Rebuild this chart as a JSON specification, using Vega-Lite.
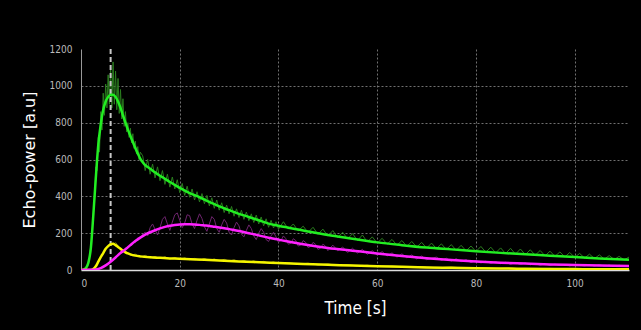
{
  "$schema": "https://vega.github.io/schema/vega-lite/v6.json",
  "width": 548,
  "height": 221,
  "autosize": "none",
  "padding": {"left": 81, "top": 49, "right": 12, "bottom": 60},
  "background": "#000000",
  "config": {
    "view": {"stroke": null},
    "axis": {
      "ticks": false,
      "grid": true,
      "gridColor": "#707070",
      "gridDash": [2, 2],
      "gridWidth": 1,
      "labelFont": "DejaVu Sans Condensed, Liberation Sans, sans-serif",
      "labelFontSize": 10,
      "labelColor": "#bbbbbb",
      "titleColor": "#ffffff",
      "titleFontWeight": "normal"
    }
  },
  "datasets": {
    "graw": [
      {"t":0,"v":0},{"t":0.5,"v":3},{"t":1,"v":12},{"t":1.5,"v":45},{"t":1.75,"v":70},{"t":2,"v":140},{"t":2.25,"v":190},{"t":2.5,"v":320},{"t":2.75,"v":380},{"t":3,"v":560},{"t":3.25,"v":540},{"t":3.5,"v":720},{"t":3.75,"v":640},{"t":4,"v":860},{"t":4.25,"v":760},{"t":4.5,"v":960},{"t":4.75,"v":840},{"t":5,"v":1010},{"t":5.25,"v":880},{"t":5.5,"v":1060},{"t":5.75,"v":900},{"t":6,"v":1100},{"t":6.25,"v":880},{"t":6.5,"v":1130},{"t":6.75,"v":900},{"t":7,"v":1080},{"t":7.25,"v":870},{"t":7.5,"v":1040},{"t":7.75,"v":850},{"t":8,"v":980},{"t":8.25,"v":820},{"t":8.5,"v":930},{"t":8.75,"v":780},{"t":9,"v":860},{"t":9.25,"v":750},{"t":9.5,"v":800},{"t":9.75,"v":720},{"t":10,"v":770},{"t":10.25,"v":690},{"t":10.5,"v":740},{"t":10.75,"v":660},{"t":11,"v":700},{"t":11.25,"v":630},{"t":11.5,"v":670},{"t":11.75,"v":600},{"t":12,"v":640},
      {"t":12.5,"v":620},{"t":13,"v":540},{"t":13.5,"v":600},{"t":14,"v":520},{"t":14.5,"v":575},{"t":15,"v":500},{"t":15.5,"v":560},{"t":16,"v":485},{"t":16.5,"v":540},{"t":17,"v":465},{"t":17.5,"v":520},{"t":18,"v":450},{"t":18.5,"v":505},{"t":19,"v":440},{"t":19.5,"v":490},{"t":20,"v":420},{"t":20.5,"v":470},{"t":21,"v":405},{"t":21.5,"v":455},{"t":22,"v":395},{"t":22.5,"v":440},{"t":23,"v":380},{"t":23.5,"v":425},{"t":24,"v":370},{"t":24.5,"v":415},{"t":25,"v":360},{"t":25.5,"v":405},{"t":26,"v":348},{"t":26.5,"v":392},{"t":27,"v":335},{"t":27.5,"v":380},{"t":28,"v":325},{"t":28.5,"v":365},{"t":29,"v":312},{"t":29.5,"v":352},{"t":30,"v":305},{"t":30.5,"v":345},{"t":31,"v":292},{"t":31.5,"v":332},{"t":32,"v":285},{"t":32.5,"v":325},{"t":33,"v":275},{"t":33.5,"v":315},{"t":34,"v":268},{"t":34.5,"v":305},{"t":35,"v":258},{"t":35.5,"v":298},{"t":36,"v":250},{"t":36.5,"v":288},{"t":37,"v":240},{"t":37.5,"v":278},{"t":38,"v":232},{"t":38.5,"v":270},{"t":39,"v":228},{"t":39.5,"v":262},{"t":40,"v":222},
      {"t":41,"v":262},{"t":42,"v":222},{"t":43,"v":250},{"t":44,"v":212},{"t":45,"v":238},{"t":46,"v":204},{"t":47,"v":232},{"t":48,"v":194},{"t":49,"v":222},{"t":50,"v":184},{"t":51,"v":214},{"t":52,"v":176},{"t":53,"v":205},{"t":54,"v":168},{"t":55,"v":198},{"t":56,"v":160},{"t":57,"v":190},{"t":58,"v":152},{"t":59,"v":180},{"t":60,"v":146},{"t":61,"v":172},{"t":62,"v":140},{"t":63,"v":166},{"t":64,"v":134},{"t":65,"v":160},{"t":66,"v":128},{"t":67,"v":155},{"t":68,"v":124},{"t":69,"v":150},{"t":70,"v":119},{"t":71,"v":146},{"t":72,"v":116},{"t":73,"v":142},{"t":74,"v":111},{"t":75,"v":138},{"t":76,"v":107},{"t":77,"v":134},{"t":78,"v":104},{"t":79,"v":130},{"t":80,"v":100},{"t":81,"v":128},{"t":82,"v":96},{"t":83,"v":124},{"t":84,"v":93},{"t":85,"v":120},{"t":86,"v":89},{"t":87,"v":118},{"t":88,"v":86},{"t":89,"v":114},{"t":90,"v":83},{"t":91,"v":110},{"t":92,"v":80},{"t":93,"v":106},{"t":94,"v":77},{"t":95,"v":102},{"t":96,"v":74},{"t":97,"v":98},{"t":98,"v":71},{"t":99,"v":95},{"t":100,"v":68},{"t":101,"v":90},{"t":102,"v":65},{"t":103,"v":86},{"t":104,"v":62},{"t":105,"v":82},{"t":106,"v":59},{"t":107,"v":78},{"t":108,"v":57},{"t":109,"v":74},{"t":110,"v":55},{"t":111,"v":70}
    ],
    "mraw": [
      {"t":8,"v":95},{"t":8.5,"v":108},{"t":9,"v":120},{"t":9.5,"v":118},{"t":10,"v":140},{"t":10.5,"v":150},{"t":11,"v":148},{"t":11.5,"v":175},{"t":12,"v":170},{"t":12.5,"v":195},{"t":13,"v":205},{"t":13.5,"v":185},{"t":14,"v":230},{"t":14.5,"v":250},{"t":15,"v":220},{"t":15.5,"v":190},{"t":16,"v":230},{"t":16.5,"v":275},{"t":17,"v":290},{"t":17.5,"v":250},{"t":18,"v":215},{"t":18.5,"v":260},{"t":19,"v":300},{"t":19.5,"v":310},{"t":20,"v":270},{"t":20.5,"v":230},{"t":21,"v":255},{"t":21.5,"v":300},{"t":22,"v":295},{"t":22.5,"v":250},{"t":23,"v":225},{"t":23.5,"v":270},{"t":24,"v":305},{"t":24.5,"v":280},{"t":25,"v":235},{"t":25.5,"v":210},{"t":26,"v":250},{"t":26.5,"v":290},{"t":27,"v":275},{"t":27.5,"v":225},{"t":28,"v":205},{"t":28.5,"v":245},{"t":29,"v":275},{"t":29.5,"v":255},{"t":30,"v":205},{"t":30.5,"v":190},{"t":31,"v":230},{"t":31.5,"v":260},{"t":32,"v":240},{"t":32.5,"v":195},{"t":33,"v":180},{"t":33.5,"v":215},{"t":34,"v":245},{"t":34.5,"v":225},{"t":35,"v":185},{"t":35.5,"v":165},{"t":36,"v":200},{"t":36.5,"v":225},{"t":37,"v":205},{"t":37.5,"v":165},{"t":38,"v":155},{"t":38.5,"v":185},{"t":39,"v":205},{"t":39.5,"v":180},{"t":40,"v":150},{"t":40.5,"v":160},{"t":41,"v":185},{"t":41.5,"v":170},{"t":42,"v":140},{"t":42.5,"v":145},{"t":43,"v":170},{"t":43.5,"v":160},{"t":44,"v":130},{"t":44.5,"v":135},{"t":45,"v":160},{"t":45.5,"v":150},{"t":46,"v":122},{"t":46.5,"v":128},{"t":47,"v":150},{"t":47.5,"v":140},{"t":48,"v":112},{"t":48.5,"v":118},{"t":49,"v":140},{"t":49.5,"v":130},{"t":50,"v":105},{"t":51,"v":135},{"t":52,"v":105},{"t":53,"v":125},{"t":54,"v":95},{"t":55,"v":118},{"t":56,"v":92},{"t":57,"v":112},{"t":58,"v":85},{"t":59,"v":105},{"t":60,"v":80},{"t":61,"v":100},{"t":62,"v":76},{"t":63,"v":93},{"t":64,"v":70},{"t":65,"v":88},{"t":66,"v":66},{"t":67,"v":82},{"t":68,"v":60},{"t":69,"v":76},{"t":70,"v":56},{"t":72,"v":70},{"t":73,"v":52},{"t":74,"v":64},{"t":75,"v":48},{"t":76,"v":62},{"t":77,"v":45},{"t":78,"v":56},{"t":79,"v":40},{"t":80,"v":52},{"t":81,"v":38},{"t":82,"v":48},{"t":83,"v":36},{"t":84,"v":45},{"t":85,"v":34},{"t":86,"v":42},{"t":87,"v":31},{"t":88,"v":40},{"t":89,"v":30},{"t":90,"v":38},{"t":91,"v":28},{"t":92,"v":35},{"t":93,"v":26},{"t":94,"v":33},{"t":95,"v":25},{"t":96,"v":32},{"t":97,"v":24},{"t":98,"v":30},{"t":99,"v":22},{"t":100,"v":30},{"t":102,"v":22},{"t":103,"v":29},{"t":104,"v":21},{"t":105,"v":30},{"t":106,"v":20},{"t":107,"v":27},{"t":108,"v":19},{"t":109,"v":26},{"t":110,"v":20},{"t":111,"v":24}
    ],
    "yraw": [
      {"t":7,"v":150},{"t":8,"v":110},{"t":9,"v":104},{"t":10,"v":80},{"t":11,"v":86},{"t":12,"v":70},{"t":13,"v":80},{"t":14,"v":66},{"t":15,"v":74},{"t":16,"v":62},{"t":17,"v":72},{"t":18,"v":60},{"t":19,"v":68},{"t":20,"v":57},{"t":21,"v":66},{"t":22,"v":56},{"t":23,"v":63},{"t":24,"v":54},{"t":25,"v":62},{"t":26,"v":52},{"t":27,"v":60},{"t":28,"v":50},{"t":29,"v":58},{"t":30,"v":48},{"t":31,"v":56},{"t":32,"v":45},{"t":33,"v":52},{"t":34,"v":42},{"t":35,"v":50},{"t":36,"v":40},{"t":37,"v":47},{"t":38,"v":37},{"t":39,"v":44},{"t":40,"v":34},{"t":42,"v":40},{"t":44,"v":31},{"t":46,"v":37},{"t":48,"v":27},{"t":50,"v":33},{"t":52,"v":24},{"t":54,"v":29},{"t":56,"v":21},{"t":58,"v":26},{"t":60,"v":18},{"t":63,"v":22},{"t":66,"v":15},{"t":69,"v":19},{"t":72,"v":12},{"t":75,"v":16},{"t":78,"v":10},{"t":81,"v":13},{"t":84,"v":8},{"t":87,"v":11},{"t":90,"v":6},{"t":95,"v":9},{"t":100,"v":4},{"t":105,"v":7},{"t":111,"v":4}
    ],
    "gfit": [
      {"t":0,"v":0},{"t":0.5,"v":2},{"t":1,"v":10},{"t":1.5,"v":40},{"t":2,"v":120},{"t":2.5,"v":300},{"t":3,"v":500},{"t":3.5,"v":680},{"t":4,"v":790},{"t":4.5,"v":870},{"t":5,"v":915},{"t":5.5,"v":940},{"t":6,"v":952},{"t":6.5,"v":952},{"t":7,"v":940},{"t":7.5,"v":915},{"t":8,"v":880},{"t":8.5,"v":840},{"t":9,"v":800},{"t":9.5,"v":762},{"t":10,"v":728},{"t":10.5,"v":695},{"t":11,"v":662},{"t":11.5,"v":632},{"t":12,"v":605},{"t":12.5,"v":585},{"t":13,"v":570},{"t":14,"v":550},{"t":15,"v":530},{"t":16,"v":512},{"t":17,"v":495},{"t":18,"v":478},{"t":19,"v":462},{"t":20,"v":446},{"t":22,"v":418},{"t":24,"v":395},{"t":26,"v":370},{"t":28,"v":345},{"t":30,"v":325},{"t":32,"v":305},{"t":34,"v":288},{"t":36,"v":270},{"t":38,"v":252},{"t":40,"v":240},{"t":45,"v":215},{"t":50,"v":190},{"t":55,"v":170},{"t":60,"v":150},{"t":65,"v":135},{"t":70,"v":122},{"t":75,"v":112},{"t":80,"v":102},{"t":85,"v":93},{"t":90,"v":85},{"t":95,"v":78},{"t":100,"v":70},{"t":105,"v":62},{"t":111,"v":55}
    ],
    "mfit": [
      {"t":0,"v":0},{"t":2,"v":1},{"t":3,"v":3},{"t":4,"v":10},{"t":5,"v":25},{"t":6,"v":45},{"t":7,"v":68},{"t":8,"v":92},{"t":9,"v":112},{"t":10,"v":135},{"t":11,"v":157},{"t":12,"v":176},{"t":13,"v":192},{"t":14,"v":205},{"t":15,"v":216},{"t":16,"v":226},{"t":17,"v":234},{"t":18,"v":240},{"t":19,"v":244},{"t":20,"v":247},{"t":21,"v":248},{"t":22,"v":248},{"t":23,"v":247},{"t":24,"v":245},{"t":25,"v":242},{"t":26,"v":239},{"t":27,"v":235},{"t":28,"v":231},{"t":29,"v":227},{"t":30,"v":222},{"t":32,"v":212},{"t":34,"v":200},{"t":36,"v":188},{"t":38,"v":175},{"t":40,"v":165},{"t":45,"v":140},{"t":50,"v":120},{"t":55,"v":105},{"t":60,"v":90},{"t":65,"v":76},{"t":70,"v":64},{"t":75,"v":54},{"t":80,"v":46},{"t":85,"v":40},{"t":90,"v":35},{"t":95,"v":30},{"t":100,"v":27},{"t":105,"v":25},{"t":111,"v":22}
    ],
    "yfit": [
      {"t":0,"v":0},{"t":2,"v":0},{"t":2.5,"v":5},{"t":3,"v":20},{"t":3.5,"v":45},{"t":4,"v":70},{"t":4.5,"v":92},{"t":5,"v":115},{"t":5.5,"v":130},{"t":6,"v":140},{"t":6.5,"v":142},{"t":7,"v":135},{"t":7.5,"v":125},{"t":8,"v":115},{"t":8.5,"v":105},{"t":9,"v":96},{"t":9.5,"v":90},{"t":10,"v":85},{"t":11,"v":78},{"t":12,"v":74},{"t":14,"v":69},{"t":16,"v":66},{"t":18,"v":63},{"t":20,"v":61},{"t":25,"v":55},{"t":30,"v":49},{"t":35,"v":43},{"t":40,"v":38},{"t":45,"v":33},{"t":50,"v":28},{"t":55,"v":24},{"t":60,"v":20},{"t":65,"v":17},{"t":70,"v":14},{"t":75,"v":12},{"t":80,"v":10},{"t":85,"v":8},{"t":90,"v":7},{"t":95,"v":6},{"t":100,"v":5},{"t":105,"v":4},{"t":111,"v":4}
    ],
    "marker": [{"t": 6}]
  },
  "encoding": {
    "x": {
      "field": "t", "type": "quantitative",
      "scale": {"domain": [0, 111], "nice": false, "zero": false},
      "axis": {
        "values": [0, 20, 40, 60, 80, 100],
        "format": "d",
        "title": "Time [s]",
        "titleFont": "DejaVu Sans Condensed, Liberation Sans, sans-serif",
        "titleFontSize": 17,
        "titlePadding": 12,
        "labelPadding": 8,
        "domainColor": "#dddddd",
        "domainWidth": 1.5,
        "gridOpacity": {"condition": {"test": "datum.value <= 0", "value": 0}, "value": 1}
      }
    },
    "y": {
      "field": "v", "type": "quantitative",
      "scale": {"domain": [0, 1200], "nice": false},
      "axis": {
        "values": [0, 200, 400, 600, 800, 1000, 1200],
        "format": "d",
        "title": "Echo-power [a.u]",
        "titleFont": "DejaVu Sans, sans-serif",
        "titleFontSize": 16,
        "titlePadding": 12,
        "labelPadding": 9,
        "domainColor": "#999999",
        "domainWidth": 1,
        "gridOpacity": {"condition": {"test": "datum.value >= 1200 || datum.value <= 0", "value": 0}, "value": 1}
      }
    }
  },
  "layer": [
    {"data": {"name": "graw"}, "mark": {"type": "line", "color": "#2a7d1e", "strokeWidth": 1, "clip": true}},
    {"data": {"name": "mraw"}, "mark": {"type": "line", "color": "#6e256e", "strokeWidth": 1, "clip": true}},
    {"data": {"name": "yraw"}, "mark": {"type": "line", "color": "#7a7a10", "strokeWidth": 1, "clip": true}},
    {"data": {"name": "marker"}, "mark": {"type": "rule", "color": "#c8c8c8", "strokeWidth": 2, "strokeDash": [5, 3]}, "encoding": {"x": {"field": "t", "type": "quantitative"}, "y": null}},
    {"data": {"name": "gfit"}, "mark": {"type": "line", "color": "#22ee22", "strokeWidth": 2.5, "interpolate": "monotone", "clip": true}},
    {"data": {"name": "yfit"}, "mark": {"type": "line", "color": "#f5f500", "strokeWidth": 2.5, "interpolate": "monotone", "clip": true}},
    {"data": {"name": "mfit"}, "mark": {"type": "line", "color": "#ff22ff", "strokeWidth": 2.5, "interpolate": "monotone", "clip": true}}
  ]
}
